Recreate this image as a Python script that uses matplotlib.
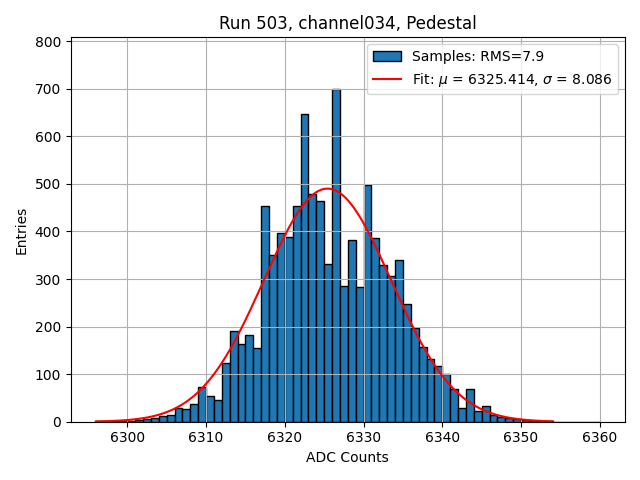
import numpy as np
import matplotlib
matplotlib.use("Agg")
import matplotlib.pyplot as plt

# Histogram bins (left edges, width 1 ADC count) and entries
bin_start = 6296
bin_stop = 6360
counts = [
    1, 0, 1, 1, 2, 3, 5, 7, 12, 15,        # 6296-6305
    28, 26, 38, 72, 55, 45, 124, 191, 164, 183,  # 6306-6315
    156, 453, 351, 396, 388, 454, 647, 479, 465, 332,  # 6316-6325
    700, 286, 382, 284, 498, 386, 330, 307, 340, 247,  # 6326-6335
    196, 157, 131, 117, 100, 68, 28, 68, 22, 32,  # 6336-6345
    14, 10, 8, 5, 3, 2, 1, 1, 0, 0,        # 6346-6355
    0, 0, 0, 0,                            # 6356-6359
]

# Fit parameters
fit_mu = 6325.414
fit_sigma = 8.086
fit_amp = 490.0
fit_xmin = 6296
fit_xmax = 6354
rms = 7.9

edges = np.arange(bin_start, bin_stop + 1)
centers = edges[:-1]

fig, ax = plt.subplots(figsize=(6.4, 4.8), dpi=100)
ax.hist(centers, bins=edges, weights=counts, color="C0", edgecolor="black",
        label=f"Samples: RMS={rms}")
xf = np.linspace(fit_xmin, fit_xmax, 500)
yf = fit_amp * np.exp(-0.5 * ((xf - fit_mu) / fit_sigma) ** 2)
ax.plot(xf, yf, color="red",
        label=rf"Fit: $\mu$ = {fit_mu:.3f}, $\sigma$ = {fit_sigma:.3f}")
ax.set_ylim(0, 808)
ax.set_title("Run 503, channel034, Pedestal")
ax.set_xlabel("ADC Counts")
ax.set_ylabel("Entries")
ax.grid(True)
ax.legend(loc="upper right")
fig.tight_layout()
fig.savefig("out.png")
